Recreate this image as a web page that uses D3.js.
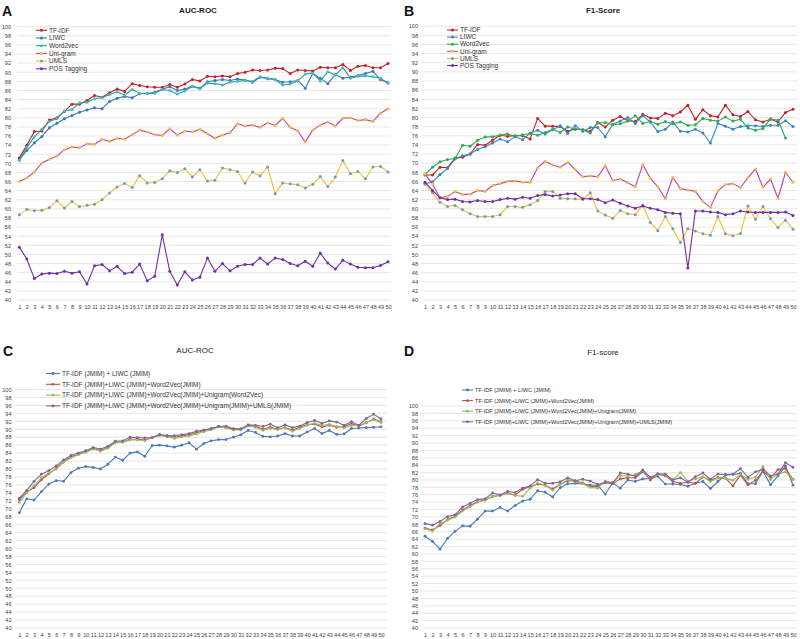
<!DOCTYPE html>
<html><head><meta charset="utf-8">
<script src="https://cdn.jsdelivr.net/npm/d3@7"></script>
<style>body{margin:0;background:#fff}svg{display:block}text{font-family:"Liberation Sans",Arial,sans-serif}</style>
</head><body><svg id="c" width="800" height="639"></svg>
<script>
const epochs = [1,2,3,4,5,6,7,8,9,10,11,12,13,14,15,16,17,18,19,20,21,22,23,24,25,26,27,28,29,30,31,32,33,34,35,36,37,38,39,40,41,42,43,44,45,46,47,48,49,50];
const yTicks = [40,42,44,46,48,50,52,54,56,58,60,62,64,66,68,70,72,74,76,78,80,82,84,86,88,90,92,94,96,98,100];

// Panel A: AUC-ROC, single feature sets
const aNames = ["TF-IDF","LIWC","Word2vec","Uni-gram","UMLS","POS Tagging"];
const aTfidf = [71.2,74.0,77.0,77.1,79.5,80.0,81.4,83.0,83.0,83.8,84.9,84.5,85.5,86.3,85.8,87.5,87.1,86.8,86.7,86.7,87.3,86.7,87.4,88.4,88.1,89.1,89.0,89.2,89.0,89.7,90.0,90.5,90.4,90.5,90.9,90.8,89.7,90.5,90.4,90.3,91.1,91.0,91.0,91.7,90.4,91.3,91.5,91.0,91.0,91.9];
const aLiwc = [70.8,72.8,74.5,75.9,77.8,78.8,79.8,80.5,81.2,81.7,82.2,82.0,83.6,84.3,84.7,84.4,85.3,85.4,85.6,86.3,86.8,86.0,86.3,86.9,86.5,87.9,88.2,88.4,88.2,88.5,88.3,87.8,88.9,88.6,88.4,87.8,87.9,88.2,86.5,89.7,88.7,87.5,89.5,88.7,88.9,89.3,89.7,90.2,88.4,87.7];
const aW2v = [70.6,73.5,75.8,77.5,79.2,79.8,81.5,81.8,83.3,83.4,84.2,84.4,85.1,85.7,85.0,86.2,85.4,85.3,85.4,86.2,86.0,85.2,85.9,86.9,86.4,87.6,87.5,87.2,87.8,88.0,88.2,88.0,89.0,88.7,88.4,87.2,87.4,88.1,89.6,89.8,88.1,90.1,89.4,91.0,88.7,89.1,89.2,89.0,88.7,87.6];
const aUni = [66.0,66.8,68.1,70.1,70.9,71.6,73.0,73.6,73.4,74.3,74.2,75.3,74.8,75.5,75.3,76.3,77.3,76.9,76.3,76.1,77.6,76.2,77.1,76.9,77.5,76.5,75.5,76.2,76.7,78.7,78.2,78.4,77.9,78.9,78.3,79.9,77.9,77.1,74.7,77.3,78.4,79.1,78.2,79.9,80.0,79.4,79.6,79.2,81.0,82.0];
const aUmls = [58.7,59.9,59.6,59.7,60.3,61.8,60.2,61.6,60.5,60.8,61.0,62.0,63.5,64.8,65.6,64.7,67.3,65.7,65.8,66.6,68.4,68.0,68.8,67.0,68.6,66.1,66.3,69.0,68.6,68.2,65.7,68.1,67.2,69.2,63.3,65.7,65.5,65.3,64.6,65.4,67.1,64.9,67.0,70.6,67.7,68.2,66.6,69.2,69.3,68.1];
const aPos = [51.6,49.0,44.7,45.7,45.9,45.8,46.3,45.9,46.2,43.5,47.5,47.8,46.4,47.4,45.8,46.1,47.9,44.2,45.2,54.3,46.3,43.3,46.2,44.4,45.0,49.2,46.3,48.0,46.4,47.4,47.8,47.8,49.2,47.9,49.2,48.9,48.0,47.5,48.5,47.4,50.3,48.1,46.8,48.7,47.9,47.2,47.1,47.1,47.6,48.4];

// Panel B: F1-Score, single feature sets
const bTfidf = [67.4,67.4,69.1,69.0,71.1,71.3,72.0,74.1,73.9,75.0,76.1,75.9,76.0,76.0,75.3,79.8,78.1,78.1,78.0,77.0,77.5,77.3,76.9,78.9,77.9,79.4,80.2,79.3,79.1,80.7,79.9,79.8,80.9,80.4,81.2,82.7,79.6,81.7,80.4,80.1,82.7,80.6,80.2,81.3,79.5,79.0,79.6,79.0,81.1,81.8];
const bLiwc = [65.4,65.9,67.5,68.8,70.9,71.6,72.0,73.0,73.6,74.4,75.3,74.7,75.8,75.1,76.6,77.2,76.4,77.3,78.2,76.5,78.2,77.0,77.8,77.8,75.8,78.5,79.2,80.0,78.7,80.4,79.0,76.9,77.4,79.0,77.0,76.8,77.4,76.6,74.4,78.7,78.1,77.4,78.0,78.2,78.2,78.0,78.3,78.3,79.3,78.0];
const bW2v = [67.5,69.1,70.3,70.8,71.0,73.9,73.7,75.0,75.7,75.8,76.1,76.4,75.9,76.2,76.5,76.1,76.7,77.4,76.7,77.9,77.4,77.3,76.6,78.8,78.9,78.4,78.6,79.2,80.4,78.7,79.1,78.5,79.1,78.6,79.0,78.3,78.4,79.8,79.4,79.2,80.1,79.2,79.6,77.7,77.2,77.6,79.7,79.4,75.5,null];
const bUni = [67.6,65.4,62.4,62.7,63.8,63.1,63.2,64.0,63.8,65.1,65.5,66.0,66.1,65.8,65.8,69.0,70.4,69.6,69.1,70.2,68.6,67.0,67.2,67.0,69.4,66.2,66.5,65.7,64.8,69.7,66.7,64.8,62.2,66.9,64.4,64.1,63.8,61.6,60.3,63.9,65.3,65.5,64.6,66.8,68.7,64.7,66.5,62.3,68.0,65.8];
const bUmls = [65.5,63.5,61.4,60.5,60.7,59.8,58.9,58.3,58.3,58.3,58.7,60.5,60.5,60.3,60.9,61.8,63.8,63.8,62.3,62.2,62.2,62.0,63.5,59.5,58.6,57.9,59.6,58.9,58.7,60.8,57.0,55.2,58.3,55.6,52.6,55.6,55.1,54.5,54.2,58.3,54.5,54.1,54.6,60.6,57.7,60.5,57.8,55.9,57.5,55.5];
const bPos = [65.8,64.0,62.4,62.0,62.1,61.6,61.5,61.8,61.6,61.6,62.0,62.3,62.1,62.5,62.3,62.9,63.1,62.8,63.0,63.3,63.3,62.2,62.2,62.0,61.3,61.9,61.2,60.6,60.1,60.6,60.1,59.8,59.2,59.0,58.9,47.0,59.5,59.5,59.3,59.2,58.7,58.9,59.5,59.3,59.2,59.2,59.2,59.2,59.3,58.5];

// Panel C: AUC-ROC, combined feature sets
const cNames = ["TF-IDF (JMIM) + LIWC (JMIM)","TF-IDF (JMIM)+LIWC (JMIM)+Word2Vec(JMIM)","TF-IDF (JMIM)+LIWC (JMIM)+Word2Vec(JMIM)+Unigram(Word2Vec)","TF-IDF (JMIM)+LIWC (JMIM)+Word2Vec(JMIM)+Unigram(JMIM)+UMLS(JMIM)"];
const cS1 = [69.0,72.5,72.2,74.3,76.2,77.1,76.9,79.1,80.2,80.6,80.4,80.0,81.2,83.0,82.2,84.0,84.3,83.2,85.9,86.0,85.8,85.5,86.0,86.6,85.0,86.4,87.1,87.4,87.4,88.0,88.6,89.7,89.2,88.2,88.1,88.3,88.9,88.3,88.3,89.3,90.2,88.9,89.7,88.7,88.8,90.2,90.3,90.4,90.5,90.6];
const cS2 = [72.3,74.2,75.3,77.3,78.8,80.2,81.9,83.1,83.7,84.4,85.1,84.6,85.4,86.8,86.8,87.5,87.5,87.3,87.9,88.6,88.4,88.0,88.3,88.6,89.1,89.6,90.1,90.7,90.4,90.1,89.9,90.9,90.8,90.0,90.5,90.0,90.4,89.8,90.5,91.2,91.3,90.6,91.0,90.5,90.6,91.4,90.8,91.6,92.6,91.9];
const cS3 = [71.6,74.0,75.8,77.8,79.0,80.0,81.7,82.8,83.6,84.2,85.0,84.5,85.2,86.6,86.7,87.3,87.3,87.1,87.9,88.4,88.2,87.7,88.1,88.3,88.8,89.4,89.9,90.6,90.3,89.8,89.8,90.8,90.5,89.7,90.2,89.9,90.3,89.5,90.2,91.0,91.5,91.0,91.2,90.7,90.3,91.0,90.9,91.7,92.4,91.7];
const cS4 = [72.6,74.6,76.9,78.7,79.6,80.8,82.3,83.4,84.0,84.6,85.4,85.0,85.7,87.0,87.1,88.0,87.9,87.8,87.9,88.7,88.3,88.4,88.6,88.9,89.5,89.8,90.2,90.7,90.8,90.1,90.1,91.1,91.0,90.7,91.3,90.4,91.1,90.4,90.8,91.7,92.2,91.5,92.1,91.8,91.0,91.9,91.0,92.7,93.8,92.6];

// Panel D: F1-score, combined feature sets
const dNames = ["TF-IDF (JMIM) + LIWC (JMIM)","TF-IDF (JMIM)+LIWC (JMIM)+Word2Vec(JMIM)","TF-IDF (JMIM)+LIWC (JMIM)+Word2Vec(JMIM)+Unigram(JMIM)","TF-IDF (JMIM)+LIWC (JMIM)+Word2Vec(JMIM)+Unigram(JMIM)+UMLS(JMIM)"];
const dS1 = [64.8,63.4,61.3,64.2,66.1,67.6,67.5,69.4,71.6,71.6,72.6,71.6,73.1,74.3,74.8,77.1,76.7,75.4,77.9,79.0,79.1,79.0,78.6,78.6,76.2,79.2,77.8,80.0,79.6,80.3,80.4,81.0,78.9,78.9,78.8,78.3,79.1,79.6,77.7,79.6,81.3,81.5,81.8,79.0,79.0,82.4,78.7,81.1,83.8,78.6];
const dS2 = [67.0,66.5,67.7,69.3,70.2,71.9,73.1,74.1,74.6,75.6,75.8,76.4,75.9,77.5,78.2,78.9,78.6,77.6,78.9,79.8,79.7,79.2,78.2,78.3,79.3,79.0,80.3,80.6,80.6,82.3,80.0,81.6,81.1,79.6,79.1,79.4,79.1,80.8,80.0,80.7,80.5,78.4,81.3,78.7,79.9,82.4,80.6,82.8,83.1,80.2];
const dS3 = [66.8,66.2,68.2,69.1,70.0,71.6,72.8,74.0,74.6,75.5,75.8,76.6,75.8,75.6,77.8,79.2,78.6,77.2,78.8,80.1,79.5,79.0,78.0,77.8,79.7,79.3,81.2,81.0,81.5,82.4,80.7,81.4,81.4,80.0,82.0,79.6,80.3,80.9,79.6,80.5,80.5,79.9,81.5,80.2,80.8,83.6,80.1,81.6,82.2,80.2];
const dS4 = [68.2,67.8,68.8,70.1,70.6,72.7,73.7,74.7,74.9,76.5,76.0,76.9,76.6,77.8,78.4,80.1,79.1,79.1,79.5,80.6,79.8,80.2,79.7,78.8,79.4,79.2,81.9,81.6,81.0,82.7,80.7,81.7,81.6,80.0,80.6,79.4,80.9,81.9,80.2,81.6,81.5,81.6,83.1,80.7,82.2,82.9,81.1,81.6,84.7,83.4];

const svg = d3.select("#c");

function drawPanel(cfg){
  const g = svg.append("g");
  const x = d3.scalePoint().domain(epochs).range([cfg.x1, cfg.x50]);
  const y = d3.scaleLinear().domain([40,100]).range([cfg.y40, cfg.y100]);
  // gridlines
  g.append("g").selectAll("line").data(yTicks).join("line")
    .attr("x1", cfg.gx0).attr("x2", cfg.gx1)
    .attr("y1", d => y(d)).attr("y2", d => y(d))
    .attr("stroke", "#dcdcdc").attr("stroke-width", 0.7);
  // y axis labels
  const ya = g.append("g").attr("transform", `translate(${cfg.ylx},0)`)
    .call(d3.axisLeft(y).tickValues(yTicks).tickSize(0).tickPadding(0));
  ya.select(".domain").remove();
  ya.selectAll("text").attr("font-size", cfg.tickFs).attr("fill", "#444")
    .attr("font-family", "Liberation Sans, Arial, sans-serif");
  // x axis labels
  const xa = g.append("g").attr("transform", `translate(0,${cfg.xly})`)
    .call(d3.axisBottom(x).tickSize(0).tickPadding(0));
  xa.select(".domain").remove();
  xa.selectAll("text").attr("font-size", cfg.tickFs).attr("fill", "#444")
    .attr("font-family", "Liberation Sans, Arial, sans-serif");
  // title & letter
  g.append("text").attr("x", cfg.tx).attr("y", cfg.ty).attr("text-anchor", "middle")
    .attr("font-size", cfg.tfs).attr("font-weight", cfg.tBold ? "bold" : "normal")
    .attr("fill", "#222").text(cfg.title);
  g.append("text").attr("x", cfg.lx).attr("y", cfg.ly)
    .attr("font-size", 14).attr("font-weight", "bold").attr("fill", "#111").text(cfg.letter);
  // series
  const line = d3.line().defined(d => d != null).x((d,i) => x(epochs[i])).y(d => y(d));
  cfg.series.forEach(s => {
    g.append("path").datum(s.values).attr("d", line)
      .attr("fill", "none").attr("stroke", s.line).attr("stroke-width", cfg.lw)
      .attr("stroke-linejoin", "round");
    g.append("g").selectAll("circle")
      .data(s.values.map((v,i) => ({v, e: epochs[i]})).filter(d => d.v != null))
      .join("circle")
      .attr("cx", d => x(d.e)).attr("cy", d => y(d.v)).attr("r", cfg.mr)
      .attr("fill", s.marker);
  });
  // legend
  const L = cfg.leg;
  cfg.series.forEach((s, k) => {
    const yy = L.y0 + k * L.dy;
    g.append("line").attr("x1", L.x0).attr("x2", L.x1).attr("y1", yy).attr("y2", yy)
      .attr("stroke", s.line).attr("stroke-width", cfg.lw);
    g.append("circle").attr("cx", (L.x0 + L.x1) / 2).attr("cy", yy).attr("r", cfg.mr).attr("fill", s.marker);
    g.append("text").attr("x", L.tx).attr("y", yy).attr("dy", "0.35em")
      .attr("font-size", L.fs).attr("fill", "#333").text(s.name);
  });
}

const colA = {
  red: "#c0232b", blue: "#3b78b4", teal: "#1fa489", cyan: "#4ab8d4",
  mag: "#bf3fb3", yel: "#f2bf2e", gblue: "#6c9cc4", pur: "#7030a0", green: "#2faa55"
};

drawPanel({
  letter: "A", lx: 2, ly: 16, title: "AUC-ROC", tx: 198, ty: 13, tfs: 8, tBold: true,
  x1: 19.3, x50: 388, y40: 300, y100: 26.7, gx0: 17, gx1: 391, ylx: 11, xly: 305,
  tickFs: 5.6, lw: 1.1, mr: 1.5,
  leg: {x0: 36, x1: 47, tx: 49, y0: 30.3, dy: 7.7, fs: 6.5},
  series: [
    {name: aNames[5], values: aPos, line: colA.pur, marker: colA.pur},
    {name: aNames[4], values: aUmls, line: colA.yel, marker: colA.gblue},
    {name: aNames[3], values: aUni, line: colA.mag, marker: colA.yel},
    {name: aNames[1], values: aLiwc, line: colA.blue, marker: colA.blue},
    {name: aNames[2], values: aW2v, line: colA.teal, marker: colA.cyan},
    {name: aNames[0], values: aTfidf, line: colA.red, marker: colA.red}
  ].reverse().sort((a,b) => aNames.indexOf(a.name) - aNames.indexOf(b.name))
});

drawPanel({
  letter: "B", lx: 404, ly: 16, title: "F1-Score", tx: 603, ty: 13, tfs: 8, tBold: true,
  x1: 425, x50: 793, y40: 300, y100: 26.2, gx0: 421, gx1: 797, ylx: 418, xly: 305,
  tickFs: 5.6, lw: 1.1, mr: 1.5,
  leg: {x0: 447, x1: 458, tx: 460, y0: 30, dy: 7.1, fs: 6.5},
  series: [
    {name: aNames[0], values: bTfidf, line: colA.red, marker: colA.red},
    {name: aNames[1], values: bLiwc, line: "#3a86c0", marker: "#3a86c0"},
    {name: aNames[2], values: bW2v, line: colA.green, marker: colA.green},
    {name: aNames[3], values: bUni, line: colA.mag, marker: colA.yel},
    {name: aNames[4], values: bUmls, line: colA.yel, marker: colA.gblue},
    {name: aNames[5], values: bPos, line: colA.pur, marker: colA.pur}
  ]
});

const off = {blue: "#4a78b8", red: "#c0504d", green: "#9bbb59", pur: "#8064a2"};

drawPanel({
  letter: "C", lx: 3, ly: 356, title: "AUC-ROC", tx: 195, ty: 353, tfs: 8, tBold: false,
  x1: 19.3, x50: 381, y40: 628, y100: 389.5, gx0: 15, gx1: 387, ylx: 11.5, xly: 633,
  tickFs: 5.6, lw: 1.1, mr: 1.4,
  leg: {x0: 46, x1: 60, tx: 62, y0: 373.5, dy: 10.8, fs: 6.5},
  series: [
    {name: cNames[0], values: cS1, line: off.blue, marker: off.blue},
    {name: cNames[1], values: cS2, line: off.red, marker: off.red},
    {name: cNames[2], values: cS3, line: off.green, marker: off.green},
    {name: cNames[3], values: cS4, line: off.pur, marker: off.pur}
  ]
});

drawPanel({
  letter: "D", lx: 404, ly: 356, title: "F1-score", tx: 603, ty: 355, tfs: 8, tBold: false,
  x1: 425, x50: 793, y40: 628, y100: 406, gx0: 421, gx1: 797, ylx: 418, xly: 633,
  tickFs: 5.6, lw: 1.1, mr: 1.4,
  leg: {x0: 462, x1: 473, tx: 475, y0: 390, dy: 10.6, fs: 5.6},
  series: [
    {name: dNames[0], values: dS1, line: off.blue, marker: off.blue},
    {name: dNames[1], values: dS2, line: off.red, marker: off.red},
    {name: dNames[2], values: dS3, line: off.green, marker: off.green},
    {name: dNames[3], values: dS4, line: off.pur, marker: off.pur}
  ]
});
</script></body></html>
